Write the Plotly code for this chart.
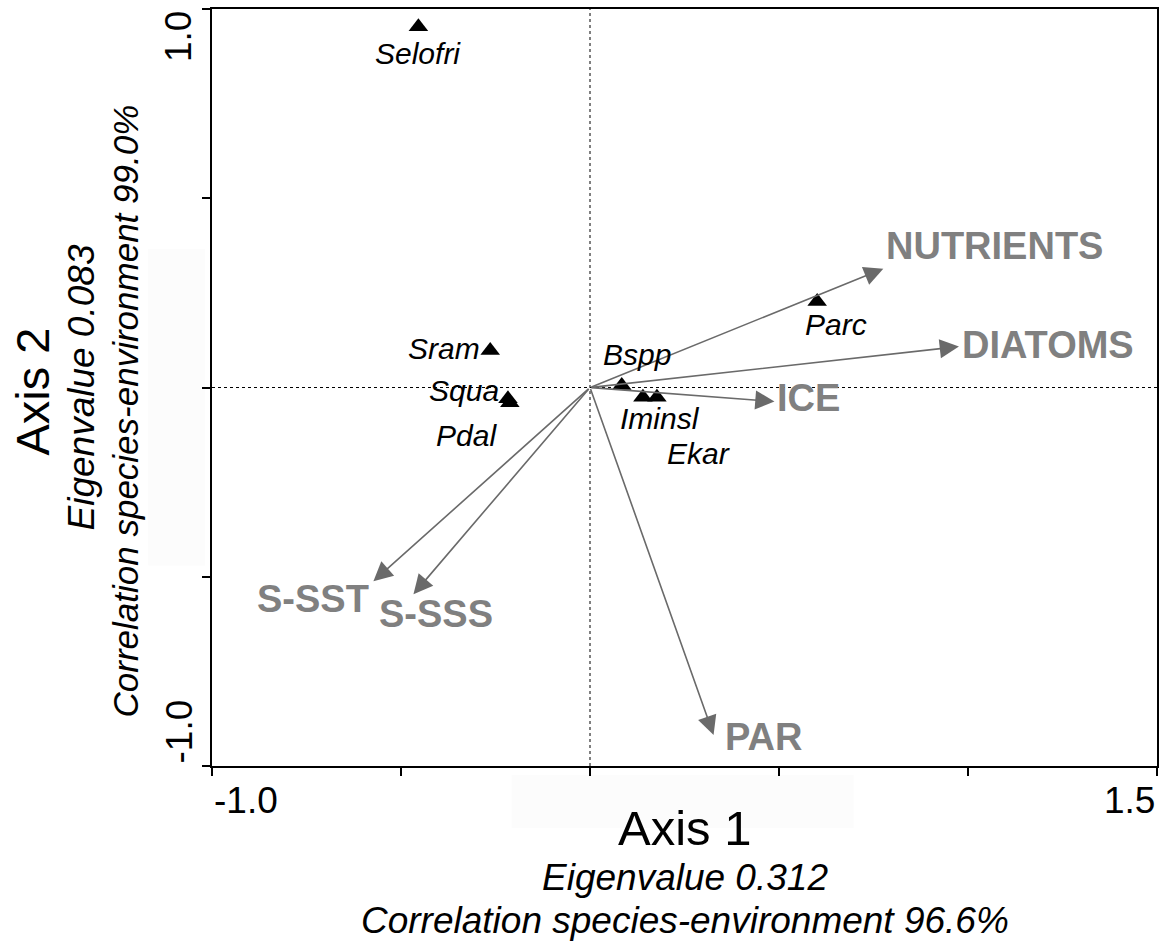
import plotly.graph_objects as go

# ---------------- data ----------------
species = ["Selofri", "Sram", "Squa", "Pdal", "Bspp", "Iminsl", "Ekar", "Parc"]
species_x = [-0.454, -0.264, -0.217, -0.212, 0.084, 0.140, 0.177, 0.601]
species_y = [0.953, 0.098, -0.030, -0.040, 0.005, -0.026, -0.026, 0.227]

env_vars = ["NUTRIENTS", "DIATOMS", "ICE", "S-SST", "S-SSS", "PAR"]
env_x = [0.776, 0.976, 0.488, -0.573, -0.467, 0.327]
env_y = [0.314, 0.108, -0.037, -0.512, -0.546, -0.918]

x_range = [-1.0, 1.5]
y_range = [-1.0, 1.0]
tick_step = 0.5

x_title = "Axis 1"
x_sub1 = "Eigenvalue 0.312"
x_sub2 = "Correlation species-environment 96.6%"
y_title = "Axis 2"
y_sub1 = "Eigenvalue 0.083"
y_sub2 = "Correlation species-environment 99.0%"

# ---------------- styling ----------------
SANS = "Liberation Sans, Arial, sans-serif"
ARROW_COL = "#6a6a6a"
ENV_COL = "#808080"

# label placement (pixel offsets relative to the point / arrow tip)
sp_label_style = {
    "Selofri": dict(xanchor="center", xshift=0, yshift=-27),
    "Sram": dict(xanchor="right", xshift=-8, yshift=2),
    "Squa": dict(xanchor="right", xshift=-7, yshift=8),
    "Pdal": dict(xanchor="right", xshift=-11, yshift=-33),
    "Bspp": dict(xanchor="center", xshift=15, yshift=31),
    "Iminsl": dict(xanchor="center", xshift=17, yshift=-21),
    "Ekar": dict(xanchor="center", xshift=42, yshift=-56),
    "Parc": dict(xanchor="center", xshift=19, yshift=-23),
}
env_label_style = {
    "NUTRIENTS": dict(xanchor="left", xshift=1, yshift=23),
    "DIATOMS": dict(xanchor="left", xshift=1, yshift=2),
    "ICE": dict(xanchor="left", xshift=1, yshift=4),
    "S-SST": dict(xanchor="right", xshift=-2, yshift=-18),
    "S-SSS": dict(xanchor="center", xshift=23, yshift=-20),
    "PAR": dict(xanchor="left", xshift=9, yshift=-2),
}

fig = go.Figure()

# species points
fig.add_trace(go.Scatter(
    x=species_x, y=species_y, mode="markers",
    marker=dict(symbol="triangle-up", size=17, color="black"),
    hoverinfo="text", text=species, showlegend=False,
))

annotations = []
# arrows for environmental variables
for name, ex, ey in zip(env_vars, env_x, env_y):
    annotations.append(dict(
        x=ex, y=ey, ax=0, ay=0, xref="x", yref="y", axref="x", ayref="y",
        text="", showarrow=True, arrowhead=2, arrowsize=2.4, arrowwidth=1.6,
        arrowcolor=ARROW_COL, standoff=0,
    ))
    st = env_label_style[name]
    annotations.append(dict(
        x=ex, y=ey, xref="x", yref="y", text=f"<b>{name}</b>", showarrow=False,
        xanchor=st["xanchor"], yanchor="middle", xshift=st["xshift"], yshift=st["yshift"],
        font=dict(family=SANS, size=38, color=ENV_COL),
    ))

# species labels
for name, sx, sy in zip(species, species_x, species_y):
    st = sp_label_style[name]
    annotations.append(dict(
        x=sx, y=sy, xref="x", yref="y", text=f"<i>{name}</i>", showarrow=False,
        xanchor=st["xanchor"], yanchor="middle", xshift=st["xshift"], yshift=st["yshift"],
        font=dict(family=SANS, size=30, color="black"),
    ))

# end tick labels
tick_font = dict(family=SANS, size=37, color="black")
annotations += [
    dict(x=x_range[0], y=0, xref="x", yref="paper", text=f"{x_range[0]:.1f}", showarrow=False,
         xanchor="left", yanchor="top", yshift=-12, font=tick_font),
    dict(x=x_range[1], y=0, xref="x", yref="paper", text=f"{x_range[1]:.1f}", showarrow=False,
         xanchor="right", yanchor="top", yshift=-12, font=tick_font),
    dict(x=0, y=y_range[1], xref="paper", yref="y", text=f"{y_range[1]:.1f}", showarrow=False,
         textangle=-90, xanchor="right", yanchor="top", xshift=-11, font=tick_font),
    dict(x=0, y=y_range[0], xref="paper", yref="y", text=f"{y_range[0]:.1f}", showarrow=False,
         textangle=-90, xanchor="right", yanchor="bottom", xshift=-11, font=tick_font),
]

# axis titles
annotations += [
    dict(x=0.5, y=0, xref="x domain", yref="paper", text=x_title, showarrow=False,
         xanchor="center", yanchor="middle", xshift=0, yshift=-62,
         font=dict(family=SANS, size=49, color="black")),
    dict(x=0.5, y=0, xref="x domain", yref="paper", text=f"<i>{x_sub1}</i>", showarrow=False,
         xanchor="center", yanchor="middle", xshift=0, yshift=-111,
         font=dict(family=SANS, size=37, color="black")),
    dict(x=0.5, y=0, xref="x domain", yref="paper", text=f"<i>{x_sub2}</i>", showarrow=False,
         xanchor="center", yanchor="middle", xshift=0, yshift=-154,
         font=dict(family=SANS, size=37, color="black")),
    dict(x=0, y=0.5, xref="paper", yref="paper", text=y_title, showarrow=False, textangle=-90,
         xanchor="center", yanchor="middle", xshift=-180, yshift=-4,
         font=dict(family=SANS, size=47, color="black")),
    dict(x=0, y=0.5, xref="paper", yref="paper", text=f"<i>{y_sub1}</i>", showarrow=False, textangle=-90,
         xanchor="center", yanchor="middle", xshift=-131, yshift=0,
         font=dict(family=SANS, size=37, color="black")),
    dict(x=0, y=0.5, xref="paper", yref="paper", text=f"<i>{y_sub2}</i>", showarrow=False, textangle=-90,
         xanchor="center", yanchor="middle", xshift=-87, yshift=-24,
         font=dict(family=SANS, size=35, color="black")),
]

shapes = [
    # faint panels behind the axis titles
    dict(type="rect", xref="paper", yref="paper", x0=0.317, x1=0.679, y0=-0.082, y1=-0.012,
         fillcolor="#fcfcfc", line=dict(width=0), layer="below"),
    dict(type="rect", xref="paper", yref="paper", x0=-0.0676, x1=-0.0074, y0=0.265, y1=0.683,
         fillcolor="#fcfcfc", line=dict(width=0), layer="below"),
    # dotted cross at the origin
    dict(type="line", xref="x", yref="paper", x0=0, x1=0, y0=0, y1=1,
         line=dict(color="black", width=1, dash="dot"), layer="below"),
    dict(type="line", xref="paper", yref="y", x0=0, x1=1, y0=0, y1=0,
         line=dict(color="black", width=1, dash="dot"), layer="below"),
]

fig.update_layout(
    width=1166, height=942,
    margin=dict(l=212, r=7, t=8, b=176),
    paper_bgcolor="white", plot_bgcolor="white",
    showlegend=False,
    annotations=annotations, shapes=shapes,
    xaxis=dict(range=x_range, tickmode="linear", tick0=x_range[0], dtick=tick_step,
               showticklabels=False, ticks="outside", ticklen=8, tickwidth=2, tickcolor="black",
               showline=True, linecolor="black", linewidth=2, mirror=True,
               showgrid=False, zeroline=False),
    yaxis=dict(range=y_range, tickmode="linear", tick0=y_range[0], dtick=tick_step,
               showticklabels=False, ticks="outside", ticklen=8, tickwidth=2, tickcolor="black",
               showline=True, linecolor="black", linewidth=2, mirror=True,
               showgrid=False, zeroline=False),
)

fig.write_html("out.html")
